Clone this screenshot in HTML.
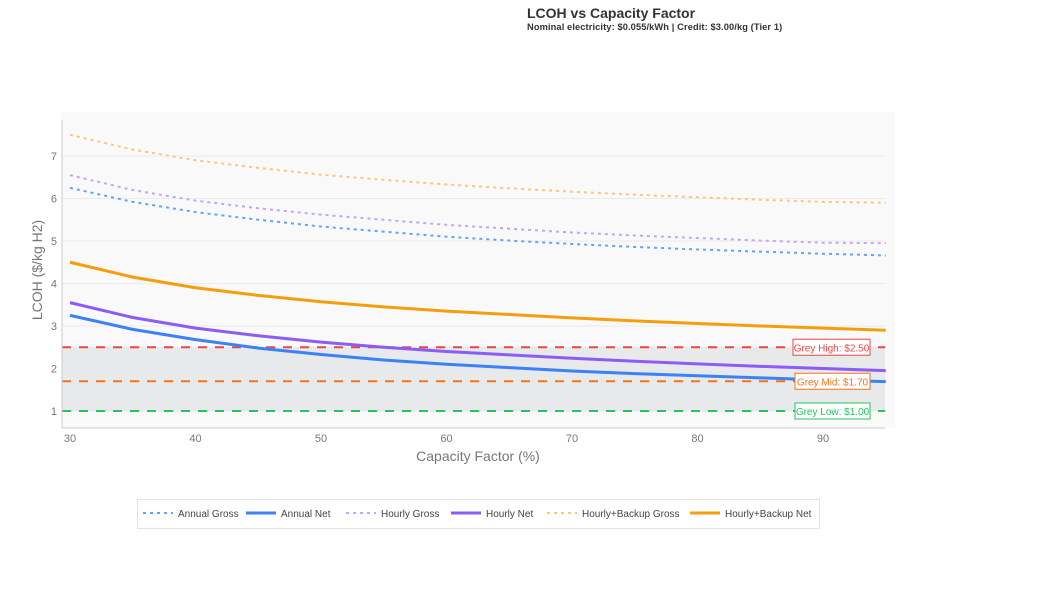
<!DOCTYPE html>
<html><head><meta charset="utf-8"><style>
body{margin:0;background:#fff;font-family:"Liberation Sans",sans-serif;}
svg text{font-family:"Liberation Sans",sans-serif;}
</style></head><body>
<svg id="chart" width="1046" height="600" xmlns="http://www.w3.org/2000/svg">
<text x="527" y="18" font-size="14" font-weight="bold" fill="#333">LCOH vs Capacity Factor</text>
<text x="527" y="30" font-size="9.3" font-weight="bold" fill="#333" letter-spacing="0.1">Nominal electricity: $0.055/kWh | Credit: $3.00/kg (Tier 1)</text>
<rect x="62" y="112" width="833" height="316" fill="#f9f9f9"/>
<g id="grid"></g>
<g id="marks"></g>
<line x1="62" y1="120" x2="62" y2="428" stroke="#ccc"/>
<line x1="62" y1="428" x2="885" y2="428" stroke="#ccc"/>
<g id="ticks"></g>
<text x="478" y="461" font-size="14" fill="#777" text-anchor="middle">Capacity Factor (%)</text>
<text x="42" y="270" font-size="14" fill="#777" text-anchor="middle" transform="rotate(-90 42 270)">LCOH ($/kg H2)</text>
<rect x="137.5" y="499.5" width="682" height="29" fill="#fff" stroke="#e4e4e4"/>
<g id="legend"></g>
</svg>
<script>
const cf=[30,35,40,45,50,55,60,65,70,75,80,85,90,95];
const annualGross=[6.25,5.92,5.68,5.5,5.34,5.22,5.1,5.01,4.93,4.86,4.8,4.75,4.7,4.66];
const annualNet=[3.25,2.92,2.68,2.48,2.33,2.2,2.1,2.02,1.94,1.88,1.83,1.78,1.73,1.69];
const hourlyGross=[6.55,6.2,5.95,5.77,5.62,5.5,5.38,5.29,5.2,5.13,5.07,5.01,4.96,4.95];
const hourlyNet=[3.55,3.2,2.95,2.77,2.62,2.5,2.4,2.32,2.24,2.17,2.11,2.05,2.0,1.95];
const backupGross=[7.5,7.15,6.9,6.72,6.56,6.44,6.33,6.24,6.16,6.09,6.03,5.97,5.92,5.9];
const backupNet=[4.5,4.15,3.9,3.72,3.57,3.45,3.35,3.27,3.19,3.12,3.06,3.0,2.95,2.9];
const xTicks=[30,40,50,60,70,80,90];
const yTicks=[1,2,3,4,5,6,7];
const refValues=[2.5,1.7,1.0];
const refLabels=["Grey High: $2.50","Grey Mid: $1.70","Grey Low: $1.00"];
const seriesNames=["Annual Gross","Annual Net","Hourly Gross","Hourly Net","Hourly+Backup Gross","Hourly+Backup Net"];

const NS="http://www.w3.org/2000/svg";
const X=v=>70+(v-30)*12.55;
const Y=v=>453.5-v*42.5;
function mk(tag,attrs,parent){const e=document.createElementNS(NS,tag);for(const k in attrs)e.setAttribute(k,attrs[k]);parent.appendChild(e);return e;}
const grid=document.getElementById('grid'),marks=document.getElementById('marks'),ticks=document.getElementById('ticks'),leg=document.getElementById('legend');
yTicks.forEach(t=>{
 const l=mk('line',{x1:62,x2:885,y1:Y(t),y2:Y(t),stroke:'#ebebeb'},grid);
 
 
 const tx=mk('text',{x:57,y:Y(t)+4,'font-size':11,fill:'#777','text-anchor':'end'},ticks);
 tx.textContent=t;
 
 
});
xTicks.forEach(t=>{
 const tx=mk('text',{x:X(t),y:442,'font-size':11,fill:'#777','text-anchor':'middle'},ticks);
 tx.textContent=t;
 
 
});
const band=mk('rect',{x:62,y:Y(refValues[0]),width:823,height:Y(refValues[2])-Y(refValues[0]),fill:'#e8e9eb'},marks);


const refColors=['#ef4444','#f97316','#22c55e'];
refValues.forEach((v,i)=>{
 const l=mk('line',{x1:62,x2:885,y1:Y(v),y2:Y(v),stroke:refColors[i],'stroke-width':2,'stroke-dasharray':'9,8'},marks);
 
 
});
const series=[[annualGross,'#60a5fa',true],[annualNet,'#3b82f6',false],[hourlyGross,'#c4a5fa',true],[hourlyNet,'#8b5cf6',false],[backupGross,'#fcc77a',true],[backupNet,'#f59e0b',false]];
series.forEach(([d,c,dash],i)=>{
 const pts=cf.map((x,j)=>X(x)+','+Y(d[j])).join(' ');
 const p=mk('polyline',{points:pts,fill:'none',stroke:c,'stroke-width':dash?2:3,'stroke-dasharray':dash?'3,4':'none','stroke-linejoin':'round'},marks);
 
 
});
refValues.forEach((v,i)=>{
 const w=[77,75,75][i];
 const r=mk('rect',{x:870-w,y:Y(v)-8,width:w,height:16,fill:'#fff',stroke:refColors[i]},marks);
 
 
 const t=mk('text',{x:870-w/2,y:Y(v)+4,'font-size':10,fill:refColors[i],'text-anchor':'middle'},marks);
 t.textContent=refLabels[i];
 
 
});
const legX=[143,246,346,451,547,690];
series.forEach(([d,c,dash],i)=>{
 const l=mk('line',{x1:legX[i],x2:legX[i]+30,y1:513,y2:513,stroke:c,'stroke-width':dash?2:3,'stroke-dasharray':dash?'3,4':'none'},leg);
 
 
 const t=mk('text',{x:legX[i]+35,y:517,'font-size':10,fill:'#444'},leg);
 t.textContent=seriesNames[i];
 
 
});
</script>
</body></html>
